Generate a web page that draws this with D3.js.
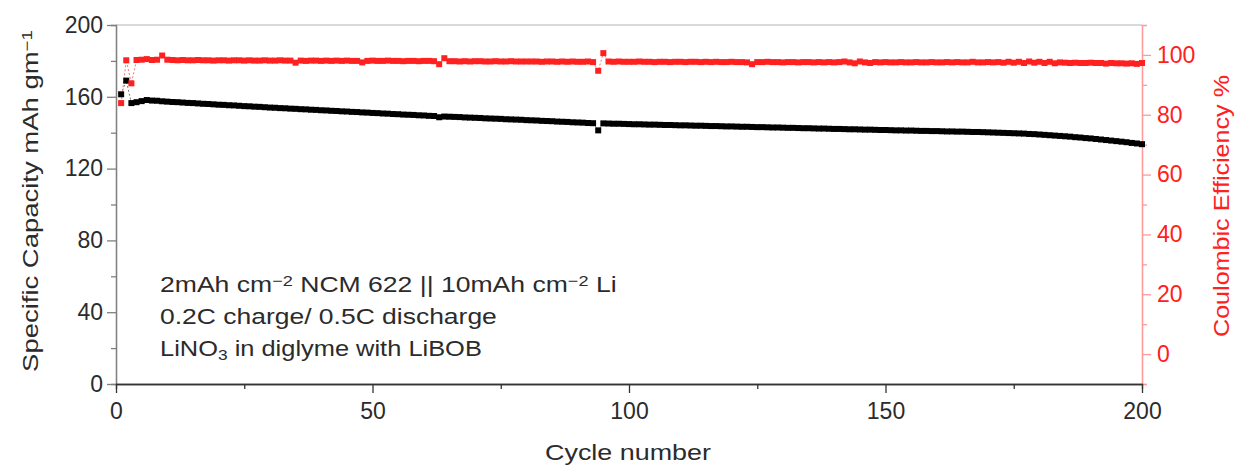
<!DOCTYPE html>
<html>
<head>
<meta charset="utf-8">
<script src="https://cdn.jsdelivr.net/npm/d3@7"></script>
<style>
    body { margin: 0; background: #fff; }
    svg { display: block; font-family: Arial, "Liberation Sans", sans-serif; }
</style>
</head>
<body>
<svg id="chart" width="1236" height="466"></svg>
<script>
/**
 * Data.
 */
const capacity = [
    161.4, 169.0, 156.5, 157.0, 157.6, 158.2, 157.9, 157.8, 157.5, 157.3,
    157.1, 157.0, 156.8, 156.6, 156.5, 156.3, 156.1, 156.0, 155.8, 155.6,
    155.5, 155.3, 155.2, 155.0, 154.8, 154.7, 154.5, 154.4, 154.2, 154.0,
    153.9, 153.7, 153.6, 153.4, 153.3, 153.1, 153.0, 152.8, 152.7, 152.5,
    152.4, 152.2, 152.1, 151.9, 151.8, 151.6, 151.5, 151.3, 151.2, 151.0,
    150.9, 150.7, 150.6, 150.4, 150.3, 150.1, 150.0, 149.9, 149.7, 149.6,
    149.4, 149.3, 148.6, 149.0, 148.9, 148.8, 148.7, 148.5, 148.4, 148.3,
    148.2, 148.0, 147.9, 147.8, 147.7, 147.5, 147.4, 147.3, 147.2, 147.0,
    146.9, 146.8, 146.6, 146.5, 146.4, 146.2, 146.1, 146.0, 145.8, 145.7,
    145.6, 145.4, 145.3, 141.3, 145.2, 145.1, 145.0, 145.0, 144.9, 144.8,
    144.7, 144.7, 144.6, 144.5, 144.5, 144.4, 144.3, 144.3, 144.2, 144.1,
    144.1, 144.0, 143.9, 143.9, 143.8, 143.7, 143.7, 143.6, 143.5, 143.5,
    143.4, 143.3, 143.3, 143.2, 143.1, 143.1, 143.0, 142.9, 142.9, 142.8,
    142.7, 142.7, 142.6, 142.5, 142.5, 142.4, 142.3, 142.3, 142.2, 142.1,
    142.1, 142.0, 141.9, 141.9, 141.8, 141.7, 141.7, 141.6, 141.5, 141.5,
    141.4, 141.3, 141.3, 141.2, 141.2, 141.1, 141.0, 141.0, 140.9, 140.9,
    140.8, 140.7, 140.7, 140.6, 140.6, 140.5, 140.4, 140.4, 140.3, 140.2,
    140.1, 140.0, 139.9, 139.8, 139.7, 139.6, 139.5, 139.3, 139.2, 139.0,
    138.8, 138.6, 138.4, 138.2, 138.0, 137.8, 137.5, 137.3, 137.0, 136.8,
    136.5, 136.2, 135.9, 135.6, 135.3, 135.0, 134.7, 134.3, 134.0, 133.6
];

const efficiency = [
    83.9, 98.2, 90.5, 98.3, 98.4, 98.6, 98.3, 98.4, 99.8, 98.4,
    98.3, 98.2, 98.3, 98.2, 98.2, 98.3, 98.2, 98.2, 98.1, 98.2,
    98.2, 98.1, 98.2, 98.2, 98.1, 98.2, 98.1, 98.1, 98.2, 98.1,
    98.1, 98.2, 98.1, 98.1, 97.4, 98.1, 98.0, 98.1, 98.1, 98.0,
    98.1, 98.0, 98.1, 98.0, 98.1, 98.0, 98.0, 97.5, 98.0, 98.1,
    98.0, 98.0, 98.1, 98.0, 98.0, 97.9, 98.0, 98.0, 97.9, 98.0,
    98.0, 97.9, 96.9, 98.9, 97.9, 97.9, 97.8, 97.9, 97.8, 97.9,
    97.9, 97.8, 97.8, 97.9, 97.8, 97.8, 97.9, 97.8, 97.8, 97.8,
    97.8, 97.8, 97.7, 97.8, 97.8, 97.7, 97.8, 97.7, 97.8, 97.7,
    97.7, 97.8, 97.6, 94.7, 100.6, 97.8, 97.7, 97.8, 97.7, 97.7,
    97.7, 97.8, 97.7, 97.7, 97.6, 97.7, 97.7, 97.6, 97.7, 97.7,
    97.6, 97.7, 97.7, 97.6, 97.7, 97.6, 97.7, 97.6, 97.6, 97.7,
    97.6, 97.6, 97.5, 96.9, 97.6, 97.6, 97.7, 97.6, 97.6, 97.5,
    97.6, 97.6, 97.5, 97.6, 97.6, 97.5, 97.6, 97.5, 97.6, 97.5,
    97.6, 97.8, 97.5, 97.2, 97.8, 97.5, 97.3, 97.6, 97.5, 97.6,
    97.5, 97.5, 97.6, 97.5, 97.5, 97.6, 97.5, 97.5, 97.6, 97.5,
    97.5, 97.6, 97.5, 97.6, 97.5, 97.5, 97.7, 97.5, 97.5, 97.6,
    97.5, 97.6, 97.4, 97.7, 97.4, 97.7, 97.3, 97.8, 97.4, 97.7,
    97.3, 97.7, 97.2, 97.5, 97.4, 97.3, 97.4, 97.3, 97.3, 97.4,
    97.3, 97.3, 97.1, 97.3, 97.2, 97.2, 97.1, 97.2, 97.0, 97.3
];

const xTicks = [0, 50, 100, 150, 200],
    xMinorTicks = [25, 75, 125, 175],
    leftTicks = [0, 40, 80, 120, 160, 200],
    leftMinorTicks = [20, 60, 100, 140, 180],
    rightTicks = [0, 20, 40, 60, 80, 100],
    rightMinorTicks = [-10, 10, 30, 50, 70, 90];

/**
 * Visual configs.
 */
const margin = { top: 25, right: 94, bottom: 82, left: 116 },
    visWidth = 1236, visHeight = 466,
    width = visWidth - margin.left - margin.right,
    height = visHeight - margin.top - margin.bottom,
    markerSize = 6,
    red = '#ff2020',
    textColor = '#2b2b2b';

const svg = d3.select('#chart');
const g = svg.append('g').attr('transform', 'translate(' + margin.left + ',' + margin.top + ')');

/**
 * Scales.
 */
const xScale = d3.scaleLinear().domain([0, 200]).range([0, width]),
    yLeft = d3.scaleLinear().domain([0, 200]).range([height, 0]),
    yRight = d3.scaleLinear().domain([-10, 110]).range([height, 0]);

// Top frame line
g.append('line')
    .attr('x1', 0).attr('x2', width).attr('y1', 0).attr('y2', 0)
    .attr('stroke', '#b4b4b4').attr('stroke-width', 1);

/**
 * Axes.
 */
function styleAxis(sel, lineColor, textFill) {
    sel.select('.domain').attr('stroke', lineColor).attr('stroke-width', 1.3);
    sel.selectAll('.tick line').attr('stroke', lineColor).attr('stroke-width', 1.3);
    sel.selectAll('.tick text')
        .attr('fill', textFill)
        .style('font-size', '23px');
}

// Left
g.append('g')
    .call(d3.axisLeft(yLeft).tickValues(leftMinorTicks).tickSize(5).tickFormat(''))
    .call(s => styleAxis(s, '#808080', textColor));
g.append('g')
    .call(d3.axisLeft(yLeft).tickValues(leftTicks).tickSize(9).tickSizeOuter(0).tickPadding(4))
    .call(s => styleAxis(s, '#808080', textColor));

// Right
g.append('g')
    .attr('transform', 'translate(' + width + ',0)')
    .call(d3.axisRight(yRight).tickValues(rightMinorTicks).tickSize(5).tickFormat(''))
    .call(s => styleAxis(s, '#ff9a9a', red));
g.append('g')
    .attr('transform', 'translate(' + width + ',0)')
    .call(d3.axisRight(yRight).tickValues(rightTicks).tickSize(9).tickSizeOuter(0).tickPadding(6))
    .call(s => styleAxis(s, '#ff9a9a', red));

// Bottom
g.append('g')
    .attr('transform', 'translate(0,' + height + ')')
    .call(d3.axisBottom(xScale).tickValues(xMinorTicks).tickSize(5).tickFormat(''))
    .call(s => styleAxis(s, '#333', textColor));
g.append('g')
    .attr('transform', 'translate(0,' + height + ')')
    .call(d3.axisBottom(xScale).tickValues(xTicks).tickSize(9).tickSizeOuter(0).tickPadding(10))
    .call(s => styleAxis(s, '#333', textColor));

/**
 * Series.
 */
const capData = capacity.map((v, i) => ({ cycle: i + 1, value: v })),
    ceData = efficiency.map((v, i) => ({ cycle: i + 1, value: v }));

const capLine = d3.line().x(d => xScale(d.cycle)).y(d => yLeft(d.value)),
    ceLine = d3.line().x(d => xScale(d.cycle)).y(d => yRight(d.value));

g.append('path').datum(capData)
    .attr('d', capLine)
    .attr('fill', 'none').attr('stroke', '#777').attr('stroke-width', 1)
    .attr('stroke-dasharray', '2,2');

g.append('path').datum(ceData)
    .attr('d', ceLine)
    .attr('fill', 'none').attr('stroke', '#ff7070').attr('stroke-width', 1)
    .attr('stroke-dasharray', '2,2');

g.append('g').selectAll('rect').data(capData).join('rect')
    .attr('x', d => xScale(d.cycle) - markerSize / 2)
    .attr('y', d => yLeft(d.value) - markerSize / 2)
    .attr('width', markerSize).attr('height', markerSize)
    .attr('fill', '#000');

g.append('g').selectAll('rect').data(ceData).join('rect')
    .attr('x', d => xScale(d.cycle) - markerSize / 2)
    .attr('y', d => yRight(d.value) - markerSize / 2)
    .attr('width', markerSize).attr('height', markerSize)
    .attr('fill', red);

/**
 * Titles. The reference lettering is wider than Arial, so each text is
 * stretched horizontally to the length measured on the picture.
 */
function place(text, x, y, len, rotate) {
    const natural = text.node().getComputedTextLength();
    const sx = len / natural;
    text.attr('transform', 'translate(' + x + ',' + y + ')' +
        (rotate ? ' rotate(' + rotate + ')' : '') + ' scale(' + sx + ',1)');
}

const leftTitle = svg.append('text')
    .attr('text-anchor', 'middle')
    .attr('fill', textColor)
    .style('font-size', '22px')
    .text('Specific Capacity mAh gm');
leftTitle.append('tspan').attr('baseline-shift', '40%').style('font-size', '15px').text('\u22121');
place(leftTitle, 38, 201, 342, -90);

const rightTitle = svg.append('text')
    .attr('text-anchor', 'middle')
    .attr('fill', red)
    .style('font-size', '22px')
    .text('Coulombic Efficiency %');
place(rightTitle, 1229, 206, 262, -90);

const xTitle = svg.append('text')
    .attr('text-anchor', 'middle')
    .attr('fill', textColor)
    .style('font-size', '22px')
    .text('Cycle number');
place(xTitle, 628, 460, 166);

/**
 * Annotation.
 */
const note = svg.append('g').attr('fill', textColor).style('font-size', '22px');
const line1 = note.append('text');
line1.append('tspan').text('2mAh cm');
line1.append('tspan').attr('baseline-shift', '40%').style('font-size', '15px').text('\u22122');
line1.append('tspan').text(' NCM 622 || 10mAh cm');
line1.append('tspan').attr('baseline-shift', '40%').style('font-size', '15px').text('\u22122');
line1.append('tspan').text(' Li');
place(line1, 160, 292, 457);

const line2 = note.append('text').text('0.2C charge/ 0.5C discharge');
place(line2, 160, 324, 337);

const line3 = note.append('text');
line3.append('tspan').text('LiNO');
line3.append('tspan').attr('baseline-shift', '-25%').style('font-size', '15px').text('3');
line3.append('tspan').text(' in diglyme with LiBOB');
place(line3, 160, 356, 322);
</script>
</body>
</html>
